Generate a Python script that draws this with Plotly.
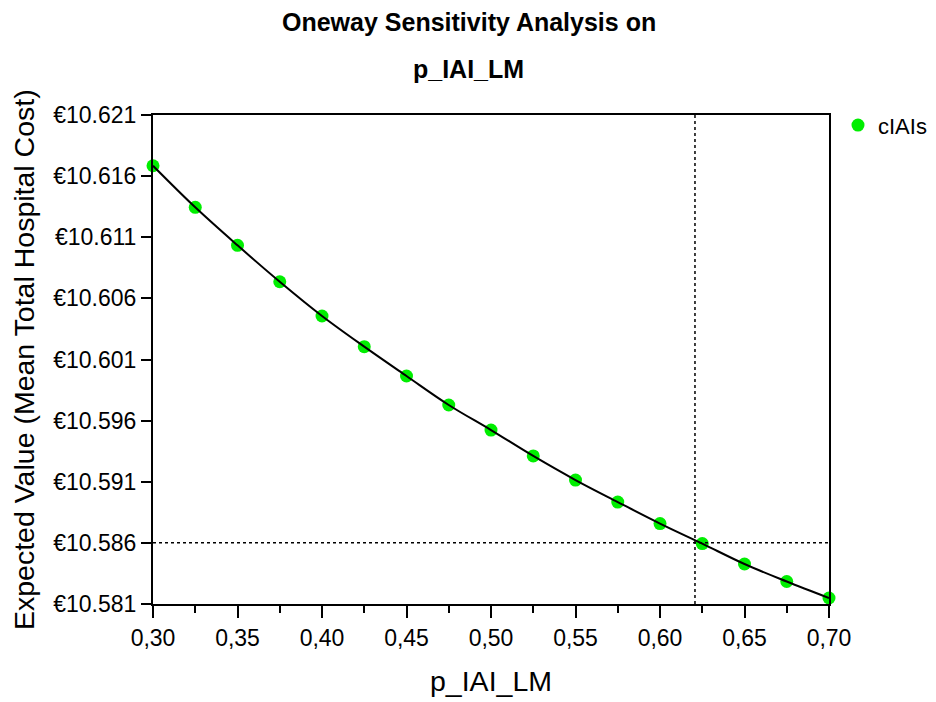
import plotly.graph_objects as go

p_values = [0.300, 0.325, 0.350, 0.375, 0.400, 0.425, 0.450, 0.475, 0.500,
            0.525, 0.550, 0.575, 0.600, 0.625, 0.650, 0.675, 0.700]
cost_values = [10.61685, 10.61345, 10.61034, 10.60736, 10.60456, 10.60205,
               10.59965, 10.59728, 10.59523, 10.59311, 10.59114, 10.58934,
               10.58758, 10.58594, 10.58427, 10.58284, 10.58149]
series_name = "cIAIs"

x_tick_vals = [0.30, 0.35, 0.40, 0.45, 0.50, 0.55, 0.60, 0.65, 0.70]
x_tick_text = ["0,30", "0,35", "0,40", "0,45", "0,50", "0,55", "0,60", "0,65", "0,70"]
x_minor_vals = [0.325, 0.375, 0.425, 0.475, 0.525, 0.575, 0.625, 0.675]
y_tick_vals = [10.581, 10.586, 10.591, 10.596, 10.601, 10.606, 10.611, 10.616, 10.621]
y_tick_text = ["€10.581", "€10.586", "€10.591", "€10.596", "€10.601",
               "€10.606", "€10.611", "€10.616", "€10.621"]

threshold_x = 0.6207
threshold_y = 10.5860

x_range = [0.30, 0.70]
y_range = [10.581, 10.621]

title_lines = ["Oneway Sensitivity Analysis on", "p_IAI_LM"]
x_title = "p_IAI_LM"
y_title = "Expected Value (Mean Total Hospital Cost)"

FONT = "Liberation Sans, Arial, sans-serif"

fig = go.Figure()
fig.add_trace(go.Scatter(
    x=p_values, y=cost_values, mode="markers", name=series_name,
    marker=dict(color="#00ee00", size=13, line=dict(width=0)),
    cliponaxis=False, showlegend=True,
))
fig.add_trace(go.Scatter(
    x=p_values, y=cost_values, mode="lines", name=series_name,
    line=dict(color="black", width=2, shape="spline"),
    cliponaxis=False, showlegend=False, hoverinfo="skip",
))

fig.add_shape(type="line", xref="x", yref="y", x0=threshold_x, x1=threshold_x,
              y0=y_range[0], y1=y_range[1], line=dict(color="black", width=1.5, dash="dot"))
fig.add_shape(type="line", xref="x", yref="y", x0=x_range[0], x1=x_range[1],
              y0=threshold_y, y1=threshold_y, line=dict(color="black", width=1.5, dash="dot"))

fig.add_annotation(text="<b>" + title_lines[0] + "</b>", xref="paper", yref="paper",
                   x=0.467, y=1.190, xanchor="center", yanchor="middle", showarrow=False,
                   font=dict(family=FONT, size=25, color="black"))
fig.add_annotation(text="<b>" + title_lines[1] + "</b>", xref="paper", yref="paper",
                   x=0.467, y=1.094, xanchor="center", yanchor="middle", showarrow=False,
                   font=dict(family=FONT, size=25, color="black"))
fig.add_annotation(text=x_title, xref="paper", yref="paper",
                   x=0.5, y=-0.157, xanchor="center", yanchor="middle", showarrow=False,
                   font=dict(family=FONT, size=28.5, color="black"))
fig.add_annotation(text=y_title, xref="paper", yref="paper", textangle=-90,
                   x=-0.1915, y=0.5, xanchor="center", yanchor="middle", showarrow=False,
                   font=dict(family=FONT, size=28.5, color="black"))

# page body adds an 8px offset, so the figure is 8px smaller and margins shifted
fig.update_layout(
    width=928, height=694,
    margin=dict(l=145, r=107, t=107, b=98, autoexpand=False),
    paper_bgcolor="white", plot_bgcolor="white",
    font=dict(family=FONT, color="black"),
    legend=dict(x=1.0133, y=1.022, xanchor="left", yanchor="top",
                font=dict(family=FONT, size=22, color="black"),
                bgcolor="rgba(0,0,0,0)"),
)
fig.update_xaxes(
    range=x_range, tickmode="array", tickvals=x_tick_vals, ticktext=x_tick_text,
    ticks="outside", ticklen=12, tickwidth=1.5, tickcolor="black",
    showline=True, linecolor="black", linewidth=2, mirror=True,
    showgrid=False, zeroline=False,
    tickfont=dict(family=FONT, size=23, color="black"),
    minor=dict(tickmode="array", tickvals=x_minor_vals, ticks="outside", ticklen=7,
               tickwidth=1.5, tickcolor="black", showgrid=False),
)
fig.update_yaxes(
    range=y_range, tickmode="array", tickvals=y_tick_vals, ticktext=y_tick_text,
    ticks="outside", ticklen=10, tickwidth=1.5, tickcolor="black",
    showline=True, linecolor="black", linewidth=2, mirror=True,
    showgrid=False, zeroline=False,
    tickfont=dict(family=FONT, size=23, color="black"),
)

fig.write_html("out.html")
